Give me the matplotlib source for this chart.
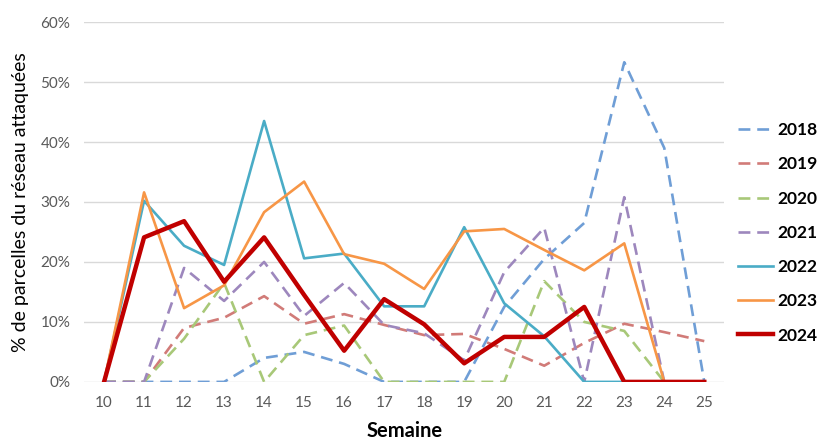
import matplotlib
matplotlib.use("Agg")
import matplotlib.pyplot as plt
from matplotlib.ticker import PercentFormatter

plt.rcParams['font.family'] = ['Lato', 'DejaVu Sans']

# semaines
semaines = list(range(10, 26))

# % de parcelles attaquees par annee
v2018 = [0, 0, 0, 0, 4.0, 5.0, 3.0, 0, 0, 0, 12.5, 20.5, 26.5, 53.3, 39.0, 0]
v2019 = [0, 0, 9.0, 10.7, 14.3, 9.7, 11.3, 9.5, 7.8, 8.0, 5.5, 2.7, 6.5, 9.7, 8.3, 6.8]
v2020 = [0, 0, 7.2, 16.5, 0, 7.8, 9.4, 0, 0, 0, 0, 16.8, 10.0, 8.5, 0]
v2021 = [0, 0, 19.0, 13.5, 20.0, 11.0, 16.5, 9.5, 8.1, 3.6, 18.3, 25.7, 0, 30.8, 0]
v2022 = [0, 30.2, 22.7, 19.5, 43.5, 20.6, 21.4, 12.6, 12.6, 25.8, 13.1, 7.6, 0, 0]
v2023 = [0, 31.6, 12.3, 16.1, 28.3, 33.4, 21.3, 19.7, 15.5, 25.1, 25.5, 22.0, 18.6, 23.1, 0]
v2024 = [0, 24.1, 26.8, 16.7, 24.1, 14.5, 5.2, 13.8, 9.6, 3.1, 7.5, 7.5, 12.5, 0, 0, 0]

series = [
    ("2018", v2018, '#6f9ed6', 'dash', 1.9),
    ("2019", v2019, '#d17b78', 'dash', 1.9),
    ("2020", v2020, '#a8c878', 'dash', 1.9),
    ("2021", v2021, '#9d87bd', 'dash', 1.9),
    ("2022", v2022, '#4aacc6', 'solid', 1.9),
    ("2023", v2023, '#f79646', 'solid', 1.9),
    ("2024", v2024, '#c00000', 'solid', 3.2),
]

fig = plt.figure(figsize=(8.24, 4.41), dpi=100)
ax = fig.add_axes([0.102, 0.134, 0.777, 0.816])

for nom, vals, col, style, lw in series:
    x = semaines[:len(vals)]
    y = [v / 100 for v in vals]
    if style == 'dash':
        ax.plot(x, y, color=col, lw=lw, dashes=(4.5, 2.6), label=nom)
    else:
        ax.plot(x, y, color=col, lw=lw, label=nom)

ax.set_xlim(9.5, 25.5)
ax.set_ylim(0, 0.6)
ax.set_xticks(semaines)
ax.set_yticks([i / 10 for i in range(7)])
ax.yaxis.set_major_formatter(PercentFormatter(1.0, decimals=0))
ax.grid(axis='y', color='#d9d9d9', lw=1)
ax.set_axisbelow(True)
for s in ax.spines.values():
    s.set_visible(False)
ax.tick_params(length=0, labelsize=11, labelcolor='#595959', pad=10)

ax.set_ylabel("% de parcelles du réseau attaquées", fontsize=14, color='black', labelpad=8)
ax.set_xlabel("Semaine", fontsize=14.5, fontweight='bold', color='black', labelpad=8)

leg = fig.legend(loc='center left', bbox_to_anchor=(0.896, 0.472), frameon=False,
                 prop={'size': 12.5, 'weight': 'bold'}, handlelength=2.0,
                 handletextpad=0.25, labelspacing=1.05, borderaxespad=0, borderpad=0)

fig.savefig("out.png", dpi=100)
